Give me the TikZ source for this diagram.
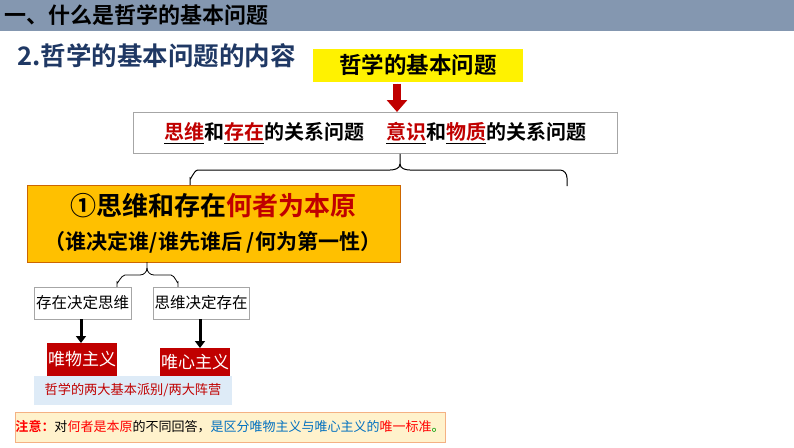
\documentclass[tikz,border=0pt]{standalone}
\usepackage{fontspec}
\setmainfont{Noto Sans CJK SC}
\newfontfamily\cjkb{Noto Sans CJK SC Bold}
\usetikzlibrary{arrows.meta}
\definecolor{hdr}{HTML}{8497B0}
\definecolor{navy}{HTML}{1F3864}
\definecolor{dred}{HTML}{C00000}
\definecolor{orng}{HTML}{FFC000}
\definecolor{lblue}{HTML}{DEEBF7}
\definecolor{notebg}{HTML}{FFF2CC}
\definecolor{noteb}{HTML}{F4B183}
\definecolor{blu}{HTML}{0070C0}
\newcommand{\ul}[1]{\underline{\textcolor{dred}{#1}}}
\tikzset{gbox/.style={draw=gray!70,line width=0.8pt,fill=white,inner sep=0pt},
txt/.style={inner sep=0pt,anchor=center}}
\begin{document}
\begin{tikzpicture}[x=1pt,y=-1pt]
\useasboundingbox (0,0) rectangle (794,447);
\fill[hdr] (0,0) rectangle (794,31);
\node[inner sep=0pt,anchor=west,font=\cjkb\fontsize{22}{22}\selectfont] (h) at (4,15) {一、什么是哲学的基本问题};
\node[inner sep=0pt,anchor=west,text=navy,font=\cjkb\fontsize{25.5}{25.5}\selectfont] (t) at (17,56) {2.哲学的基本问题的内容};
\node[fill=yellow,minimum width=210pt,minimum height=33pt,inner sep=0pt,font=\cjkb\fontsize{22.5}{22.5}\selectfont] (top) at (418,65) {哲学的基本问题};
\node[gbox,minimum width=484pt,minimum height=41pt,font=\cjkb\fontsize{20}{20}\selectfont] (q) at (375,133) {\ul{思维}和\ul{存在}的关系问题\hspace{22pt}\ul{意识}和\ul{物质}的关系问题};
\draw[-{Triangle[length=12pt,width=20pt]},line width=8pt,draw=dred,fill=dred] (top.south -| 397,0) ++(0,2) coordinate (a0) -- (397,112);
\draw[line width=1pt] (q.south -| 400,0) -- (400,164) to[out=-90,in=0] (390,170) -- (198,170) to[out=180,in=-90] (190,178) -- (190,185);
\draw[line width=1pt] (400,164) to[out=-90,in=180] (410,170) -- (560,170) to[out=0,in=90] (567,178) -- (567,186);
\node[draw=orange!80!black,line width=1pt,fill=orng,minimum width=373pt,minimum height=77pt,inner sep=0pt] (o) at (213.5,223.5) {};
\node[txt,font=\cjkb\fontsize{26}{26}\selectfont] (o1) at (213,206) {①思维和存在\textcolor{dred}{何者为本原}};
\node[txt,font=\cjkb\fontsize{21}{21}\selectfont] (o2) at (213,242) {（谁决定谁/谁先谁后 /何为第一性）};
\draw[line width=0.8pt] (147,262) -- (147,268) to[out=-90,in=0] (140,275) -- (125,275) to[out=180,in=-90] (117,282) -- (117,287);
\draw[line width=0.8pt] (147,268) to[out=-90,in=180] (154,275) -- (171,275) to[out=0,in=-90] (178,282) -- (178,287);
\node[gbox,minimum width=97pt,minimum height=32pt,font=\fontsize{15.5}{15.5}\selectfont] (b1) at (82.5,303) {存在决定思维};
\node[gbox,minimum width=96pt,minimum height=32pt,font=\fontsize{15.5}{15.5}\selectfont] (b2) at (201,303) {思维决定存在};
\node[fill=dred,text=white,minimum width=70pt,minimum height=33pt,inner sep=0pt,font=\fontsize{17}{17}\selectfont] (m1) at (82,359.5) {唯物主义};
\node[fill=dred,text=white,minimum width=70pt,minimum height=28pt,inner sep=0pt,font=\fontsize{17}{17}\selectfont] (m2) at (195,362) {唯心主义};
\draw[line width=3pt,-{Triangle[length=7pt,width=10pt]}] (b1.south -| 81,0) -- (81,343);
\draw[line width=3pt,-{Triangle[length=7pt,width=10pt]}] (b2.south -| 200,0) -- (200,348);
\node[fill=lblue,minimum width=198pt,minimum height=29pt,inner sep=0pt,text=dred,font=\fontsize{13.2}{13.2}\selectfont] (p) at (133,390.5) {哲学的两大基本派别/两大阵营};
\node[draw=noteb,line width=0.6pt,fill=notebg,minimum width=430pt,minimum height=30pt,inner sep=0pt,font=\fontsize{13}{13}\selectfont] (n) at (230,427) {\textcolor{red}{\cjkb 注意：}对\textcolor{red}{何者是本原}的不同回答，\textcolor{blu}{是区分唯物主义与唯心主义的}\textcolor{red}{唯一标准}\textcolor{green!60!black}{。}};
\end{tikzpicture}
\end{document}
